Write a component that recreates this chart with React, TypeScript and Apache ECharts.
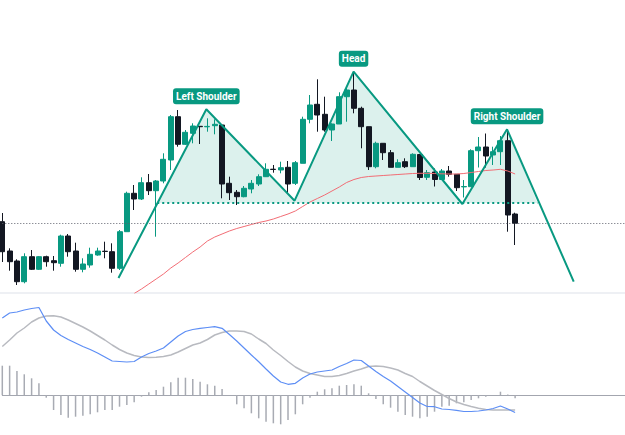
import { useEffect, useRef } from "react";
import * as echarts from "echarts";

const SLOTS = 86;
const CATEGORIES = Array.from({ length: SLOTS }, (_, i) => String(i));

// [open, close, low, high]
const CANDLES: number[][] = [
  [78.3, 48.3, 38, 87], [49, 38.3, 29.3, 51.7], [39, 18.3, 15, 40.7], [18.3, 43.3, 16.7, 46.7],
  [43.3, 30.7, 30, 50], [30.7, 43.3, 30, 44], [43.3, 38.3, 33.3, 44.3], [39.3, 37.3, 29.3, 44],
  [36.7, 64, 33.3, 65.3], [64, 48.3, 43.3, 66], [49, 30.7, 28.3, 57.3], [30.7, 36, 27.7, 41.7],
  [35, 45.7, 32.3, 52.3], [45, 49, 44.3, 52.3], [48.8, 48.5, 41.7, 58.3], [48.3, 31.7, 27.3, 56.7],
  [31.7, 68.3, 30, 70], [68.3, 106.7, 68.3, 108.3], [106.7, 101, 90, 115], [101, 117.3, 100, 122.7],
  [117.3, 109.3, 105, 126], [109.3, 119, 63.3, 120], [119, 140.7, 116.7, 146.7], [140, 183.3, 130, 185],
  [183.3, 155.7, 153.3, 190], [155.7, 167.7, 155, 170], [166.7, 174, 156.7, 176.7], [173.7, 173.3, 156, 174],
  [173.2, 173.6, 168.3, 181.7], [174.3, 175.7, 165.7, 180.7], [175, 116, 101.7, 175.5], [116.7, 107.3, 100, 123.3],
  [107.7, 103.3, 95, 110], [103.3, 111.7, 102.7, 114], [111, 116.7, 106.7, 120], [116, 123.3, 114, 125.7],
  [123.3, 130.7, 123, 136.7], [130.8, 130.5, 127.3, 135], [130, 132.3, 126.7, 138.3], [132.7, 116, 106.7, 139],
  [116.7, 137.3, 115, 139], [136.7, 180.7, 136.7, 183.3], [180.7, 195, 176.7, 205], [195.7, 185, 168.3, 220.7],
  [185.7, 170, 168.3, 203.3], [170, 176, 159, 176.7], [176, 203.3, 176, 207.7], [203.3, 210, 178.3, 213.3],
  [210, 191.7, 186.7, 228.3], [191.7, 173.3, 151.7, 193.3], [173.3, 133.3, 130, 173.3], [133.3, 156.7, 131.7, 158.3],
  [156.7, 147.3, 140, 156.7], [147.3, 132.7, 132.7, 150], [132.7, 137.3, 132.7, 140.7], [138.3, 133.3, 132, 141.7],
  [133.3, 145.7, 133.3, 146.7], [145.5, 122.5, 120, 145.5], [122.7, 127.3, 120, 130], [128, 120.5, 113.5, 131.5],
  [120.5, 129, 120, 131], [129, 125.7, 123.3, 134], [125.7, 112.3, 109, 125.7], [113.1, 113.5, 102.5, 120],
  [113.3, 149.3, 113.3, 150.7], [149.3, 153, 132.5, 163], [153, 144, 132.5, 166.5], [145, 148.3, 135, 153.3],
  [148.3, 159.3, 135, 164], [159.3, 85, 68.3, 170.7], [86, 76.7, 55, 87.3],
];

const MA: (number | null)[] = [
  null, null, null, null, null, null, null, null, null, null, null, null, null, null, null, null, null, null,
  6.5, 11, 16, 21, 26, 32, 37, 42.5, 48, 53, 59, 63, 66, 69, 71.5, 73.5, 75.5, 77.5, 79, 81, 83.5, 86,
  89, 93.5, 98, 101.5, 105, 109, 113, 117.5, 120.5, 122.5, 123.5, 124, 124.5, 125, 125.5, 126, 126.5,
  126.7, 126.7, 126.5, 126.2, 126, 126, 126.5, 127.5, 128.5, 129.5, 130, 130.7, 129, 126,
];

const MACD = [
  77, 82, 83, 85, 86.5, 87.5, 74, 65, 59.5, 55.5, 52, 48.5, 45.5, 42, 38, 34, 33.5, 33, 33.5, 38,
  41.5, 44, 47, 53, 59, 63.5, 65.5, 66.7, 67.5, 68.3, 66.7, 60.5, 54, 47, 40, 33.3, 26, 19, 13, 10.7,
  11.7, 17, 21, 23, 24, 25, 28.5, 31.5, 35, 34.5, 29, 23.5, 18.5, 14, 8.5, 3, -2.5, -8, -11.5, -11.7,
  -14, -14.5, -15.3, -16.5, -16.5, -16, -15, -13.5, -11, -14, -17.5,
];

const SIGNAL = [
  48.5, 55, 62, 67, 73, 77, 79, 79.2, 78, 75, 71.5, 68, 64, 59.5, 55, 50, 45.5, 42, 39.5, 38,
  37.5, 37.7, 38.5, 40, 43, 46.5, 50, 52, 55.5, 60, 62.5, 64, 64, 63.5, 61, 56, 51.5, 45, 39.5, 33.5,
  28, 24, 21.5, 20, 18.5, 18.5, 19.5, 21.5, 24, 26, 28.5, 29, 28.5, 27, 25, 21.5, 18.5, 13.5, 9, 4.5,
  0.5, -3.5, -7, -9.5, -11.5, -13.3, -14.5, -15, -15, -15, -15,
];

const HIST = [
  29.3, 29.3, 24, 20.7, 16.7, 11.7, -2.7, -15, -20, -22.7, -21.7, -20.7, -19.3, -17.3, -15, -15, -11.7, -10, -7.3, -1.7,
  2.7, 5, 8.3, 12.7, 17.3, 17.3, 16, 13.3, 10.7, 9.3, 6, 0, -9.3, -13.3, -18.3, -23.3, -26.7, -28.3, -29.3, -25,
  -19.3, -9.3, -2.7, 3.3, 5.7, 6.7, 9.3, 10, 10.7, 9.3, 1.7, -4, -9.3, -12.7, -16.7, -20, -21.7, -23.3, -21.7, -16.7,
  -11.7, -10.7, -8.3, -7.3, -5, -3.3, -1.7, 0, 3.3, 0.5, -3.3,
];

const PRICE_LINE = 77;

// Head & shoulders pattern pivots (x in bar-index units, y in price units)
const PATTERN_X = [15.86, 27.85, 39.9, 47.95, 62.8, 68.9, 78.0];
const PATTERN_V = [22, 190.7, 99.3, 228.3, 96, 170.7, 18.3];
const NECK_X = [21.15, 73.06];
const NECK_V = 97;
const LABEL_NAMES = ["Left Shoulder", "Head", "Right Shoulder"];
const LABEL_AT = [1, 3, 5];

const TEAL = "#089981";
const DARK = "#131722";

export default function App() {
  const ref = useRef<HTMLDivElement>(null);

  useEffect(() => {
    if (!ref.current) return;
    const chart = echarts.init(ref.current, undefined, { renderer: "svg" });

    const patternData = PATTERN_X.map((x, i) => [x, PATTERN_V[i]]);
    const fillPoints = [
      [NECK_X[0], NECK_V],
      ...patternData.slice(1, 6),
      [NECK_X[1], NECK_V],
    ];
    const labelData = LABEL_NAMES.map((name, k) => ({
      name,
      value: [PATTERN_X[LABEL_AT[k]], PATTERN_V[LABEL_AT[k]]],
    }));

    const gridLeft = 2.3;
    const gridWidth = 7.36 * (SLOTS - 1);

    chart.setOption({
      animation: false,
      backgroundColor: "#ffffff",
      grid: [
        { left: gridLeft, width: gridWidth, top: 0, height: 293 },
        { left: gridLeft, width: gridWidth, top: 300, height: 135 },
      ],
      graphic: [
        {
          type: "rect",
          shape: { x: 0, y: 292, width: 625, height: 2 },
          style: { fill: "#eef0f4" },
          z: -1,
          silent: true,
        },
      ],
      xAxis: [
        { type: "category", gridIndex: 0, data: CATEGORIES, boundaryGap: false, show: false },
        { type: "value", gridIndex: 0, min: 0, max: SLOTS - 1, show: false },
        {
          type: "category",
          gridIndex: 1,
          data: CATEGORIES,
          boundaryGap: false,
          axisLine: { show: true, onZero: true, lineStyle: { color: "#a3a6af", width: 1 } },
          axisTick: { show: false },
          axisLabel: { show: false },
          splitLine: { show: false },
        },
      ],
      yAxis: [
        { type: "value", gridIndex: 0, min: 7, max: 300, show: false },
        { type: "value", gridIndex: 1, min: -40, max: 95, show: false },
      ],
      series: [
        {
          type: "custom",
          xAxisIndex: 1,
          yAxisIndex: 0,
          data: [patternData[0]],
          z: 1,
          silent: true,
          renderItem: (_params: any, api: any) => ({
            type: "polygon",
            shape: { points: fillPoints.map((p) => api.coord(p)) },
            style: { fill: "rgba(8,153,129,0.14)" },
          }),
        },
        {
          type: "candlestick",
          xAxisIndex: 0,
          yAxisIndex: 0,
          data: CANDLES,
          barWidth: 5.5,
          clip: false,
          z: 3,
          itemStyle: {
            color: TEAL,
            color0: DARK,
            borderColor: TEAL,
            borderColor0: DARK,
            borderWidth: 1,
          },
          markLine: {
            silent: true,
            symbol: ["none", "none"],
            label: { show: false },
            lineStyle: { color: "#5d606b", type: [1, 2], width: 1 },
            data: [{ yAxis: PRICE_LINE }],
          },
        },
        {
          type: "line",
          xAxisIndex: 0,
          yAxisIndex: 0,
          data: MA,
          symbol: "none",
          z: 4,
          lineStyle: { color: "#f26d75", width: 1 },
        },
        {
          type: "line",
          xAxisIndex: 1,
          yAxisIndex: 0,
          data: NECK_X.map((x) => [x, NECK_V]),
          symbol: "none",
          z: 5,
          lineStyle: { color: TEAL, width: 2, type: [2, 3] },
        },
        {
          type: "line",
          xAxisIndex: 1,
          yAxisIndex: 0,
          data: patternData,
          symbol: "none",
          z: 6,
          lineStyle: { color: TEAL, width: 2 },
        },
        {
          type: "scatter",
          xAxisIndex: 1,
          yAxisIndex: 0,
          data: labelData,
          symbolSize: 1,
          z: 7,
          itemStyle: { color: "rgba(0,0,0,0)", opacity: 1 },
          label: {
            show: true,
            position: "top",
            distance: 4.5,
            formatter: "{b}",
            color: "#ffffff",
            backgroundColor: TEAL,
            opacity: 1,
            fontFamily: "Roboto",
            fontWeight: "bold",
            fontSize: 10,
            lineHeight: 12,
            padding: [2, 3, 2, 3],
            borderRadius: 3,
          },
        },
        {
          type: "bar",
          xAxisIndex: 2,
          yAxisIndex: 1,
          data: HIST,
          barWidth: 1.5,
          itemStyle: { color: "#a8abb3" },
        },
        {
          type: "line",
          xAxisIndex: 2,
          yAxisIndex: 1,
          data: SIGNAL,
          symbol: "none",
          lineStyle: { color: "#b8bac0", width: 1.5 },
        },
        {
          type: "line",
          xAxisIndex: 2,
          yAxisIndex: 1,
          data: MACD,
          symbol: "none",
          lineStyle: { color: "#5d8ef5", width: 1.2 },
        },
      ],
    });

    return () => chart.dispose();
  }, []);

  return (
    <div
      ref={ref}
      style={{ position: "fixed", left: 0, top: 0, width: 625, height: 435, background: "#fff" }}
    />
  );
}
